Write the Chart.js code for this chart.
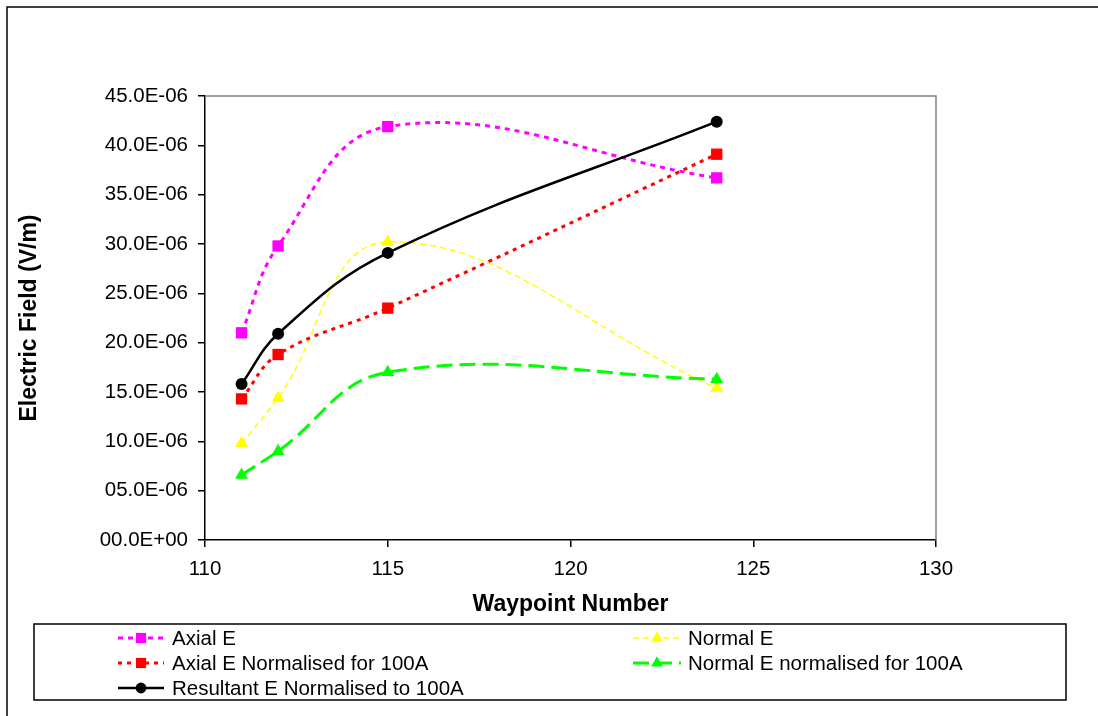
<!DOCTYPE html>
<html>
<head>
<meta charset="utf-8">
<title>Electric Field vs Waypoint</title>
<script src="https://cdn.jsdelivr.net/npm/chart.js@4.4.1/dist/chart.umd.min.js"></script>
<style>
    html, body { margin: 0; padding: 0; background: #fff; }
    #wrap { width: 1098px; height: 716px; }
</style>
</head>
<body>
<div id="wrap"><canvas id="fieldChart" width="1098" height="716"></canvas></div>
<script>
// Data
const waypoints = [111, 112, 115, 124];
const axialE = [21.0e-6, 29.8e-6, 41.9e-6, 36.7e-6];
const normalE = [9.8e-6, 14.4e-6, 30.2e-6, 15.4e-6];
const axialENorm = [14.3e-6, 18.8e-6, 23.5e-6, 39.1e-6];
const normalENorm = [6.6e-6, 9.0e-6, 17.0e-6, 16.3e-6];
const resultantENorm = [15.8e-6, 20.9e-6, 29.1e-6, 42.4e-6];

const xTicks = [110, 115, 120, 125, 130];
const yTicks = [0, 5e-6, 10e-6, 15e-6, 20e-6, 25e-6, 30e-6, 35e-6, 40e-6, 45e-6];

const FONT = "'Liberation Sans', Arial, sans-serif";
Chart.defaults.font.family = FONT;
Chart.defaults.color = '#000';

const toPoints = vals => waypoints.map((x, i) => ({ x, y: vals[i] }));

function series(label, vals, color, width, dash, style, radius, order) {
    return {
        label,
        data: toPoints(vals),
        showLine: true,
        borderColor: color,
        backgroundColor: color,
        borderWidth: width,
        borderDash: dash,
        tension: 0.4,
        pointStyle: style,
        pointRadius: radius,
        pointHoverRadius: radius,
        pointBorderWidth: 0,
        pointBackgroundColor: color,
        pointBorderColor: color,
        order
    };
}

const datasets = [
    series('Axial E', axialE, '#FF00FF', 3, [5, 5], 'rect', 8, 4),
    series('Normal E', normalE, '#FFFF00', 1.5, [6, 4], 'triangle', 7.5, 3),
    series('Axial E Normalised for 100A', axialENorm, '#FF0000', 3, [4, 5], 'rect', 8, 2),
    series('Normal E normalised for 100A', normalENorm, '#00FF00', 3, [16, 7], 'triangle', 7.5, 1),
    series('Resultant E Normalised to 100A', resultantENorm, '#000000', 2.5, [], 'circle', 6, 0)
];

// legend slots: [sample start x, marker x, text x, row y]
const legendSlots = [
    [118, 141, 172, 638],
    [633, 657, 688, 638],
    [118, 141, 172, 663],
    [633, 657, 688, 663],
    [118, 141, 172, 688]
];

const framePlugin = {
    id: 'frame',
    beforeDraw(chart) {
        const ctx = chart.ctx;
        ctx.save();
        ctx.fillStyle = '#fff';
        ctx.fillRect(0, 0, chart.width, chart.height);
        ctx.strokeStyle = '#000';
        ctx.lineWidth = 1.5;
        ctx.beginPath();
        ctx.moveTo(7, chart.height);
        ctx.lineTo(7, 7);
        ctx.lineTo(chart.width, 7);
        ctx.stroke();
        ctx.restore();
    },
    beforeDatasetsDraw(chart) {
        const { ctx, chartArea: a } = chart;
        ctx.save();
        ctx.strokeStyle = '#808080';
        ctx.lineWidth = 1.5;
        ctx.beginPath();
        ctx.moveTo(a.left, a.top);
        ctx.lineTo(a.right, a.top);
        ctx.lineTo(a.right, a.bottom);
        ctx.stroke();
        ctx.restore();
    },
    afterDraw(chart) {
        const ctx = chart.ctx;
        ctx.save();
        ctx.strokeStyle = '#000';
        ctx.lineWidth = 1.5;
        ctx.strokeRect(34, 624, 1032, 76);
        ctx.font = '20.5px ' + FONT;
        ctx.textBaseline = 'middle';
        ctx.fillStyle = '#000';
        chart.data.datasets.forEach((ds, i) => {
            const [x0, mx, tx, y] = legendSlots[i];
            ctx.save();
            ctx.strokeStyle = ds.borderColor;
            ctx.lineWidth = ds.borderWidth;
            ctx.setLineDash(ds.borderDash);
            ctx.beginPath();
            ctx.moveTo(x0, y);
            ctx.lineTo(mx + (mx - x0), y);
            ctx.stroke();
            ctx.setLineDash([]);
            ctx.fillStyle = ds.pointBackgroundColor;
            ctx.strokeStyle = ds.pointBorderColor;
            Chart.helpers.drawPoint(ctx, {
                pointStyle: ds.pointStyle,
                radius: ds.pointRadius * 0.9,
                rotation: 0,
                borderWidth: 0
            }, mx, y);
            ctx.restore();
            ctx.fillText(ds.label, tx, y + 1);
        });
        ctx.restore();
    }
};

new Chart(document.getElementById('fieldChart'), {
    type: 'scatter',
    data: { datasets },
    options: {
        responsive: false,
        animation: false,
        layout: { padding: { top: 96, right: 162, left: 0, bottom: 0 } },
        plugins: {
            legend: { display: false },
            tooltip: { enabled: false }
        },
        scales: {
            x: {
                type: 'linear',
                min: 110,
                max: 130,
                afterFit(scale) { scale.height = 176; },
                afterBuildTicks(scale) { scale.ticks = xTicks.map(v => ({ value: v })); },
                ticks: { font: { size: 20.5 }, padding: 10, color: '#000' },
                grid: { drawOnChartArea: false, drawTicks: true, tickLength: 7, color: '#000', lineWidth: 1.5 },
                border: { display: true, color: '#000', width: 1.5 },
                title: {
                    display: true,
                    text: 'Waypoint Number',
                    font: { size: 23, weight: 'bold' },
                    color: '#000',
                    padding: { top: 0, bottom: 98 }
                }
            },
            y: {
                type: 'linear',
                min: 0,
                max: 45e-6,
                afterFit(scale) { scale.width = 205; },
                afterBuildTicks(scale) { scale.ticks = yTicks.map(v => ({ value: v })); },
                ticks: {
                    font: { size: 20.5 },
                    padding: 10,
                    color: '#000',
                    callback(v) {
                        const m = v * 1e6;
                        if (Math.abs(m) < 1e-9) return '00.0E+00';
                        return m.toFixed(1).padStart(4, '0') + 'E-06';
                    }
                },
                grid: { drawOnChartArea: false, drawTicks: true, tickLength: 7, color: '#000', lineWidth: 1.5 },
                border: { display: true, color: '#000', width: 1.5 },
                title: {
                    display: true,
                    text: 'Electric Field (V/m)',
                    font: { size: 23, weight: 'bold' },
                    color: '#000',
                    padding: { top: 16, bottom: 0 }
                }
            }
        }
    },
    plugins: [framePlugin]
});
</script>
</body>
</html>
